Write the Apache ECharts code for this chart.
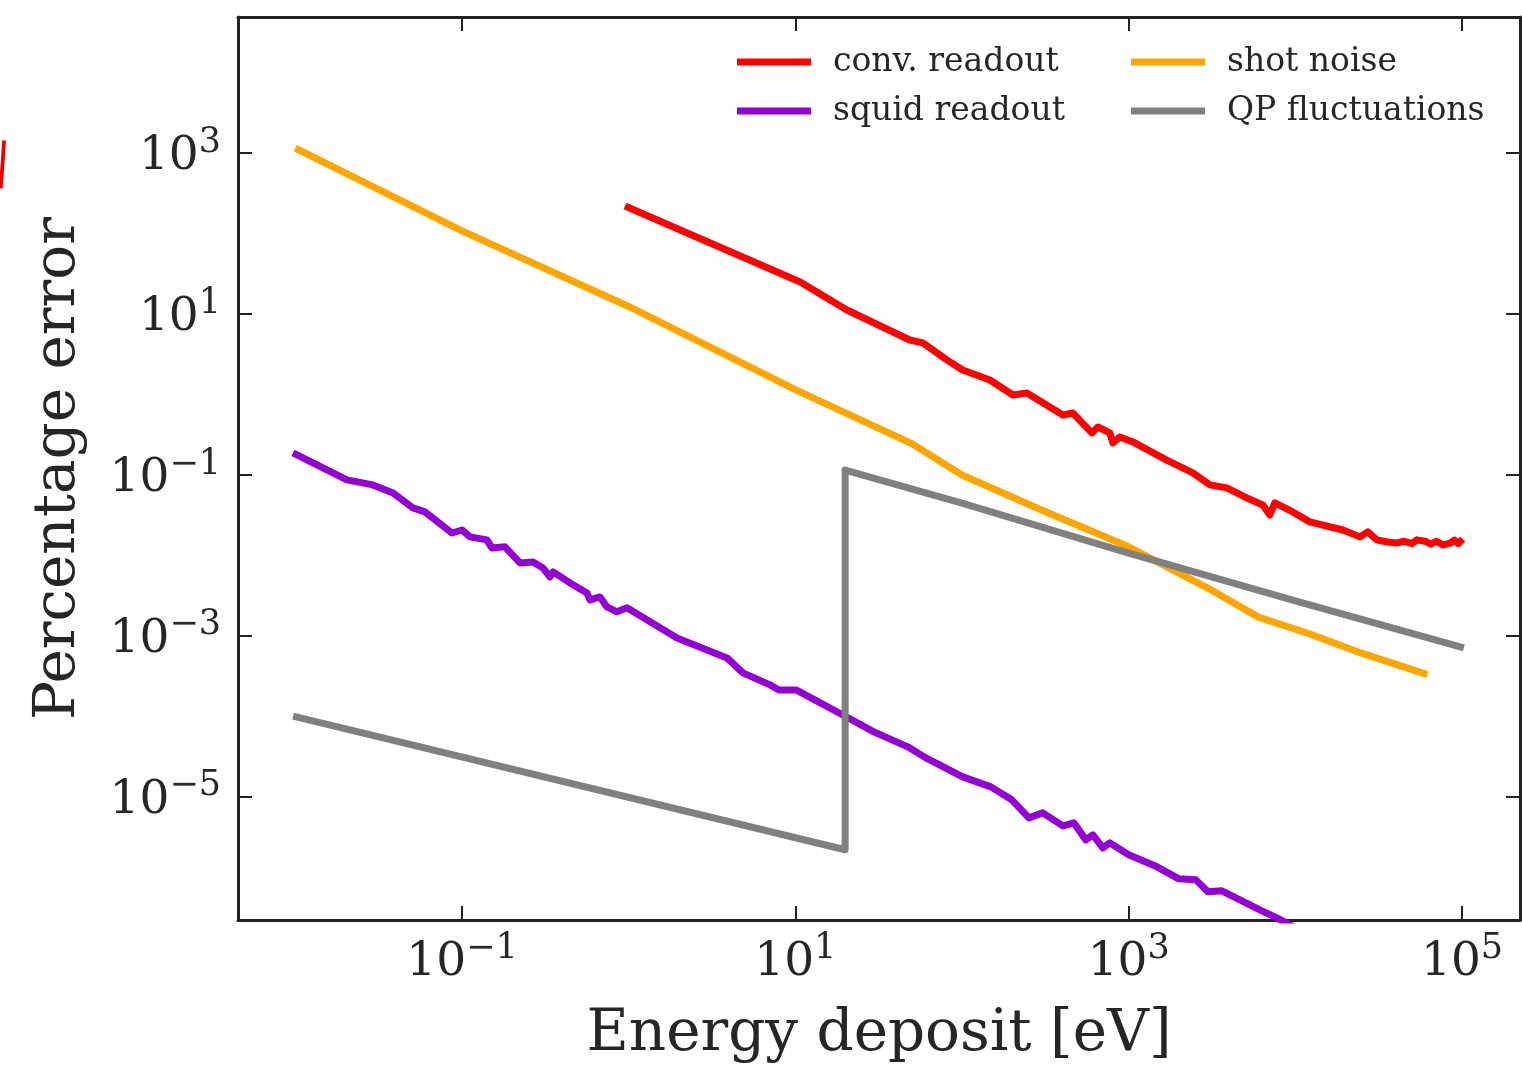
<!DOCTYPE html>
<html><head><meta charset="utf-8">
<script src="https://cdn.jsdelivr.net/npm/echarts@6/dist/echarts.min.js"></script>
<style>html,body{margin:0;padding:0;background:#fff}#c{width:1522px;height:1072px}</style>
</head><body><div id="c"></div>
<script>
// ---- data ----
const seriesNames = ['conv. readout', 'squid readout', 'shot noise', 'QP fluctuations'];

const convE = [0.95, 10.7, 20.4, 48.6, 58.2, 81.1, 101, 147, 202, 245, 403, 462, 601, 653, 771, 804, 885, 1060, 1690, 2430, 3070, 3880, 5120, 6380, 7030, 7530, 9660, 12200, 19300, 24400, 27200, 30800, 35000, 40600, 45000, 50000, 53600, 60000, 65000, 70000, 76700, 85000, 90000, 95000, 101000];
const convY = [220, 25.0, 11.2, 4.75, 4.37, 2.69, 2.01, 1.51, 0.986, 1.04, 0.556, 0.589, 0.333, 0.394, 0.333, 0.250, 0.296, 0.257, 0.153, 0.106, 0.0752, 0.0690, 0.0518, 0.0424, 0.0318, 0.0449, 0.0347, 0.0261, 0.0207, 0.0170, 0.0196, 0.0156, 0.0148, 0.0143, 0.0150, 0.0140, 0.0156, 0.0150, 0.0138, 0.0150, 0.0135, 0.0142, 0.0155, 0.0140, 0.0160];

const squidE = [0.00968, 0.0204, 0.0292, 0.0386, 0.0508, 0.0600, 0.0871, 0.1, 0.1117, 0.141, 0.151, 0.181, 0.223, 0.267, 0.306, 0.337, 0.352, 0.445, 0.562, 0.586, 0.673, 0.741, 0.851, 0.977, 1.95, 3.89, 4.85, 7.05, 7.98, 10.1, 19.3, 29.6, 47.3, 60.7, 101, 149, 199, 252, 305, 403, 469, 553, 610, 700, 771, 1000, 1480, 2000, 2530, 2990, 3620, 4400, 6120, 7740, 10600];
const squidY = [0.1875, 0.0867, 0.0752, 0.0597, 0.0389, 0.0347, 0.0190, 0.0207, 0.0170, 0.0156, 0.0124, 0.0128, 0.00807, 0.00830, 0.00700, 0.00541, 0.00624, 0.00455, 0.00342, 0.00280, 0.00305, 0.00229, 0.00199, 0.00223, 0.000944, 0.000533, 0.000347, 0.000246, 0.000213, 0.000213, 0.000104, 6.42e-5, 4.18e-5, 3.05e-5, 1.77e-5, 1.33e-5, 9.18e-6, 5.48e-6, 6.33e-6, 4.36e-6, 4.75e-6, 2.92e-6, 3.37e-6, 2.32e-6, 2.68e-6, 1.91e-6, 1.35e-6, 9.57e-7, 9.30e-7, 6.61e-7, 6.80e-7, 5.56e-7, 3.94e-7, 3.14e-7, 2.23e-7];

const shotE = [0.01, 0.1, 1, 10, 50, 100, 300, 1000, 3000, 6000, 12000, 25000, 62000];
const shotY = [1150, 108, 12.4, 1.15, 0.245, 0.1, 0.0366, 0.0128, 0.0039, 0.00171, 0.00107, 0.00061, 0.00033];

const qpE = [0.0097, 19.9, 19.9, 100, 1000, 10000, 102600];
const qpY = [1.01e-4, 2.2e-6, 0.115, 0.0445, 0.0107, 0.00272, 0.00071];

const xTicks = [0.1, 10, 1000, 100000];
const yTicks = [1000, 10, 0.1, 0.001, 0.00001];
const xRange = [0.00453, 222800];
const yRange = [2.95e-7, 49000];

const colors = ['#ff0000', '#9400d3', '#ffa500', '#808080'];
const FONT = 'DejaVu Serif';
const INK = '#262626';

// ---- chart ----
function zip(a, b) { return a.map((v, i) => [v, b[i]]); }
function sci(v) {
  const e = Math.round(Math.log10(v));
  return '{b|10}{s|' + (e < 0 ? '\u2212' + (-e) : String(e)) + '}';
}
const rich = {
  b: { fontFamily: FONT, fontSize: 47, color: INK, verticalAlign: 'bottom', lineHeight: 54 },
  s: { fontFamily: FONT, fontSize: 35, color: INK, verticalAlign: 'bottom', lineHeight: 54, padding: [0, 0, 20, 0] }
};
const axisLine = { show: true, lineStyle: { color: '#222', width: 3 } };
function tick(vals) { return { show: true, inside: true, length: 14, lineStyle: { color: '#222', width: 2 }, customValues: vals }; }

const chart = echarts.init(document.getElementById('c'), null, { renderer: 'canvas' });
const legendPos = [[737, 44], [737, 93], [1131, 44], [1131, 93]];

chart.setOption({
  animation: false,
  backgroundColor: '#fff',
  grid: { left: 238, right: 2, top: 17, bottom: 152, containLabel: false, outerBoundsMode: 'none' },
  legend: seriesNames.map((n, i) => ({
    data: [n], left: legendPos[i][0], top: legendPos[i][1], orient: 'horizontal',
    itemWidth: 74, itemHeight: 7, icon: 'rect', selectedMode: false, padding: 0,
    textStyle: { fontFamily: FONT, fontSize: 33, color: INK, lineHeight: 36, padding: [0, 0, 0, 17] }
  })),
  xAxis: [
    { type: 'log', logBase: 10, position: 'bottom', min: xRange[0], max: xRange[1],
      axisLine, axisTick: tick(xTicks), minorTick: { show: false }, splitLine: { show: false },
      axisLabel: { customValues: xTicks, formatter: sci, rich, margin: 12 },
      name: 'Energy deposit [eV]', nameLocation: 'middle', nameGap: 86,
      nameTextStyle: { fontFamily: FONT, fontSize: 58, color: INK } },
    { type: 'log', logBase: 10, position: 'top', min: xRange[0], max: xRange[1],
      axisLine, axisTick: tick(xTicks), splitLine: { show: false }, axisLabel: { show: false } }
  ],
  yAxis: [
    { type: 'log', logBase: 10, position: 'left', min: yRange[0], max: yRange[1],
      axisLine, axisTick: tick(yTicks), minorTick: { show: false }, splitLine: { show: false },
      axisLabel: { customValues: yTicks, formatter: sci, rich, margin: 17 },
      name: 'Percentage error', nameLocation: 'middle', nameGap: 150,
      nameTextStyle: { fontFamily: FONT, fontSize: 58, color: INK } },
    { type: 'log', logBase: 10, position: 'right', min: yRange[0], max: yRange[1],
      axisLine, axisTick: tick(yTicks), splitLine: { show: false }, axisLabel: { show: false } }
  ],
  series: [
    { name: seriesNames[0], data: zip(convE, convY), color: colors[0] },
    { name: seriesNames[1], data: zip(squidE, squidY), color: colors[1] },
    { name: seriesNames[2], data: zip(shotE, shotY), color: colors[2] },
    { name: seriesNames[3], data: zip(qpE, qpY), color: colors[3] }
  ].map(s => Object.assign({
    type: 'line', xAxisIndex: 0, yAxisIndex: 0, showSymbol: false, symbol: 'none', clip: true,
    lineStyle: { width: 7, color: s.color, join: 'round' }, itemStyle: { color: s.color }
  }, s)),
  graphic: [
    { type: 'text', x: -4, y: 140, rotation: -0.07, style: { text: '|', fill: '#ee0000', font: '48px "DejaVu Serif"' } }
  ]
});
</script></body></html>
